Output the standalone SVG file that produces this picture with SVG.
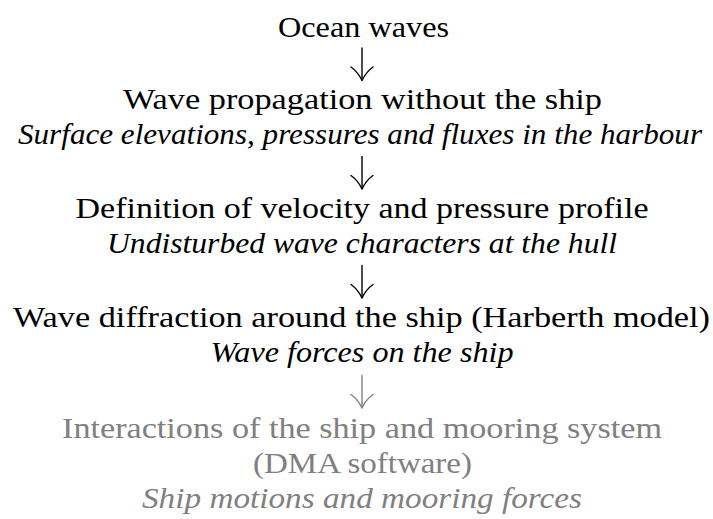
<svg xmlns="http://www.w3.org/2000/svg" width="713" height="519" viewBox="0 0 713 519">
  <style>
    text { font-family: "Liberation Serif", "Times New Roman", serif; font-size: 30px; text-anchor: middle; fill: #000; }
    .it { font-style: italic; }
    .grey text { fill: #808080; }
    .arrow { fill: none; stroke: #000; stroke-width: 1.4; stroke-linecap: round; }
    .arrow.grey { stroke: #808080; }
  </style>
  <defs>
    <g id="arr">
      <path d="M0 0 V32"/>
      <path d="M-11 19 Q-4 24 0 32.5 M11 19 Q4 24 0 32.5"/>
    </g>
  </defs>
  <rect width="713" height="519" fill="#fff"/>

  <g id="n1">
    <text x="363.5" y="37" textLength="171" lengthAdjust="spacingAndGlyphs">Ocean waves</text>
  </g>
  <g id="n2">
    <text x="362.5" y="109" textLength="479" lengthAdjust="spacingAndGlyphs">Wave propagation without the ship</text>
    <text class="it" x="360" y="144" textLength="684" lengthAdjust="spacingAndGlyphs">Surface elevations, pressures and fluxes in the harbour</text>
  </g>
  <g id="n3">
    <text x="362" y="218" textLength="573" lengthAdjust="spacingAndGlyphs">Definition of velocity and pressure profile</text>
    <text class="it" x="362" y="253" textLength="510" lengthAdjust="spacingAndGlyphs">Undisturbed wave characters at the hull</text>
  </g>
  <g id="n4">
    <text x="361.5" y="327" textLength="697" lengthAdjust="spacingAndGlyphs">Wave diffraction around the ship (Harberth model)</text>
    <text class="it" x="362" y="362" textLength="303" lengthAdjust="spacingAndGlyphs">Wave forces on the ship</text>
  </g>
  <g id="n5" class="grey">
    <text x="362" y="438" textLength="600" lengthAdjust="spacingAndGlyphs">Interactions of the ship and mooring system</text>
    <text x="362.5" y="473" textLength="219" lengthAdjust="spacingAndGlyphs">(DMA software)</text>
    <text class="it" x="362" y="508" textLength="440" lengthAdjust="spacingAndGlyphs">Ship motions and mooring forces</text>
  </g>

  <g id="connectors">
    <use href="#arr" class="arrow" x="362" y="48"/>
    <use href="#arr" class="arrow" x="362" y="156.5"/>
    <use href="#arr" class="arrow" x="362" y="265.5"/>
    <use href="#arr" class="arrow grey" x="362" y="375.5"/>
  </g>
</svg>
